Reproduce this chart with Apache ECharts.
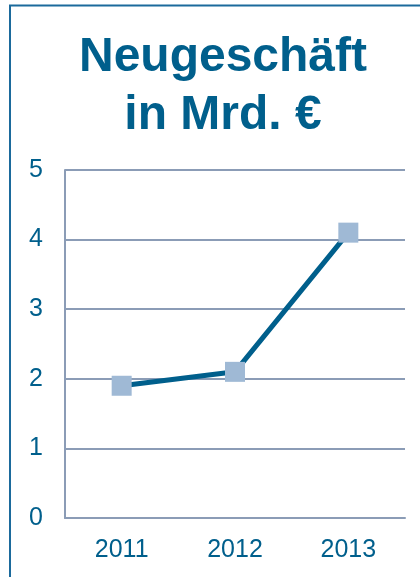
<!DOCTYPE html>
<html>
<head>
<meta charset="utf-8">
<script src="https://cdn.jsdelivr.net/npm/echarts@6/dist/echarts.min.js"></script>
<style>
  html, body { margin: 0; padding: 0; background: #fff; }
  #chart { width: 420px; height: 577px; }
</style>
</head>
<body>
<div id="chart"></div>
<script>
// Neugeschäft in Mrd. €
const years = ["2011", "2012", "2013"];
const neugeschaeft = [1.9, 2.1, 4.1];
const yTicks = [0, 1, 2, 3, 4, 5];

const blue = "#005f8c";
const gridColor = "#8b9cb6";

const mychart = echarts.init(document.getElementById("chart"));
const option = {
  animation: false,
  textStyle: { fontFamily: "Liberation Sans, Arial, sans-serif" },
  title: {
    text: "Neugeschäft\nin Mrd. €",
    left: 218,
    textAlign: "center",
    top: 24,
    textStyle: {
      color: blue,
      fontSize: 48,
      fontWeight: "bold",
      lineHeight: 58,
    },
  },
  // frame line top + left
  graphic: [
    {
      type: "rect",
      shape: { x: 10, y: 5.5, width: 600, height: 800 },
      style: { fill: "none", stroke: "#1b6a9c", lineWidth: 2 },
      silent: true,
    },
  ],
  grid: {
    left: 65,
    right: 15,
    top: 170,
    bottom: 59,
  },
  xAxis: {
    type: "category",
    data: years,
    boundaryGap: true,
    axisLine: { lineStyle: { color: gridColor, width: 2 } },
    axisTick: { show: false },
    axisLabel: { color: blue, fontSize: 25, margin: 20 },
  },
  yAxis: {
    type: "value",
    min: yTicks[0],
    max: yTicks[yTicks.length - 1],
    interval: 1,
    axisLine: { show: true, lineStyle: { color: gridColor, width: 2 } },
    axisTick: { show: false },
    axisLabel: { color: blue, fontSize: 25, margin: 22 },
    splitLine: { lineStyle: { color: gridColor, width: 2 } },
  },
  series: [
    {
      name: "Neugeschäft",
      type: "line",
      data: neugeschaeft,
      symbol: "rect",
      symbolSize: 20,
      lineStyle: { color: blue, width: 5 },
      itemStyle: { color: "#9fb9d5" },
      z: 3,
    },
  ],
};
mychart.setOption(option);
</script>
</body>
</html>
